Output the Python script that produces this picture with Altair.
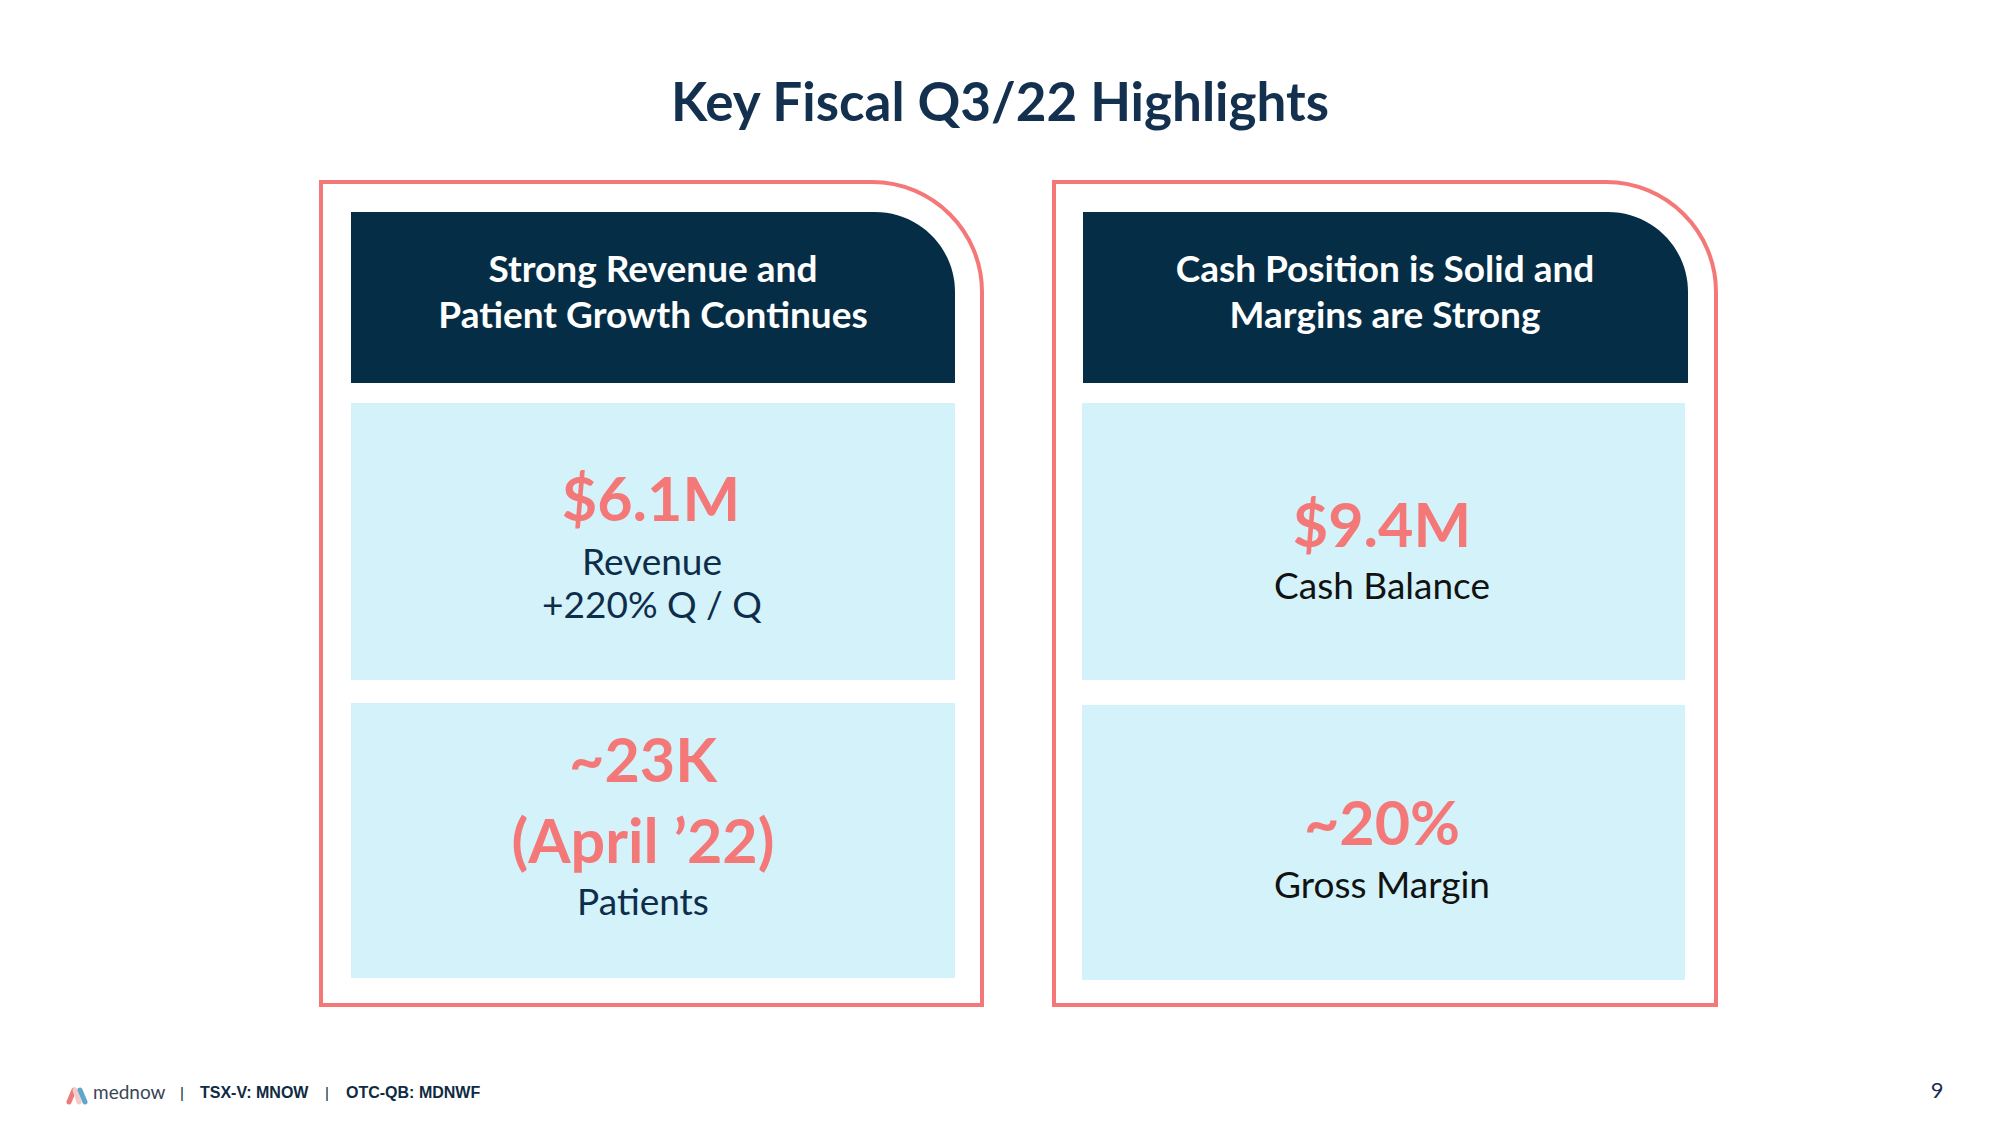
import altair as alt
import pandas as pd

# ---------------- content ----------------
slide_title = "Key Fiscal Q3/22 Highlights"
panel_titles_line1 = ["Strong Revenue and", "Cash Position is Solid and"]
panel_titles_line2 = ["Patient Growth Continues", "Margins are Strong"]
metric_values = ["$6.1M", "~23K", "(April \u201922)", "$9.4M", "~20%"]
metric_labels = ["Revenue", "+220% Q / Q", "Patients", "Cash Balance", "Gross Margin"]
footer_items = ["TSX-V: MNOW", "OTC-QB: MDNWF"]
brand_name = "mednow"
page_number = "9"

# ---------------- layout (pixels of a 2000x1125 slide) ----------------
panel_x0 = [321, 1054]
panel_x1 = [982, 1716]
panel_y0 = [182, 182]
panel_y1 = [1005, 1005]

header_x0 = [351, 1083]
header_x1 = [955, 1688]
header_y0 = [212, 212]
header_y1 = [383, 383]
header_cx = [653, 1385]
header_base1 = [282, 282]
header_base2 = [328, 328]

box_x0 = [351, 351, 1082, 1082]
box_x1 = [955, 955, 1685, 1685]
box_y0 = [403, 703, 403, 705]
box_y1 = [680, 978, 680, 980]

value_cx = [651, 643, 643, 1382, 1382]
value_base = [521, 782, 863, 547, 845]
label_cx = [652, 652, 643, 1382, 1382]
label_base = [575, 618, 915, 599, 898]

CORAL = "#F47878"
NAVY = "#052E46"
LIGHT = "#D3F2FA"
TITLE_C = "#13304F"
LABEL_NAVY = "#0E2D4B"
LABEL_BLACK = "#121212"
label_colors = [LABEL_NAVY, LABEL_NAVY, LABEL_NAVY, LABEL_BLACK, LABEL_BLACK]

W, H = 1984, 1109
XS = alt.Scale(domain=[8, 8 + W], nice=False, zero=False)
YS = alt.Scale(domain=[8, 8 + H], nice=False, zero=False, reverse=True)


def X(f):
    return alt.X(f, type="quantitative", scale=XS, axis=None)


def Y(f):
    return alt.Y(f, type="quantitative", scale=YS, axis=None)


# ---------------- data tables ----------------
panels = pd.DataFrame({"x0": panel_x0, "x1": panel_x1, "y0": panel_y0, "y1": panel_y1})
headers = pd.DataFrame({"x0": header_x0, "x1": header_x1, "y0": header_y0, "y1": header_y1})
boxes = pd.DataFrame({"x0": box_x0, "x1": box_x1, "y0": box_y0, "y1": box_y1})

header_text = pd.DataFrame({
    "t": panel_titles_line1 + panel_titles_line2,
    "x": header_cx + header_cx,
    "y": header_base1 + header_base2,
})
values = pd.DataFrame({"t": metric_values, "x": value_cx, "y": value_base})
labels = pd.DataFrame({"t": metric_labels, "x": label_cx, "y": label_base, "c": label_colors})
title_df = pd.DataFrame({"t": [slide_title], "x": [1000], "y": [121]})
footer_bold = pd.DataFrame({"t": footer_items, "x": [200, 346], "y": [1098, 1098]})
footer_sep = pd.DataFrame({"t": ["|", "|"], "x": [182, 327], "y": [1098, 1098]})
brand_df = pd.DataFrame({"t": [brand_name], "x": [93], "y": [1099]})
page_df = pd.DataFrame({"t": [page_number], "x": [1937], "y": [1098]})
logo = pd.DataFrame({
    "x0": [69, 75, 80], "x1": [74, 79, 85],
    "y0": [1102, 1090, 1090], "y1": [1090, 1102, 1102],
    "c": ["#EE7A78", "#F4C9C8", "#5FA7C8"],
})

# ---------------- layers ----------------
panel_layer = alt.Chart(panels).mark_rect(
    fill="#ffffff", stroke=CORAL, strokeWidth=4, cornerRadiusTopRight=110
).encode(x=X("x0"), x2="x1", y=Y("y0"), y2="y1")

header_layer = alt.Chart(headers).mark_rect(
    fill=NAVY, cornerRadiusTopRight=80
).encode(x=X("x0"), x2="x1", y=Y("y0"), y2="y1")

box_layer = alt.Chart(boxes).mark_rect(fill=LIGHT).encode(
    x=X("x0"), x2="x1", y=Y("y0"), y2="y1"
)

title_layer = alt.Chart(title_df).mark_text(
    font="Lato", fontWeight="bold", fontSize=53, color=TITLE_C,
    align="center", baseline="alphabetic"
).encode(x=X("x"), y=Y("y"), text="t:N")

header_text_layer = alt.Chart(header_text).mark_text(
    font="Lato", fontWeight="bold", fontSize=37, color="#ffffff",
    align="center", baseline="alphabetic"
).encode(x=X("x"), y=Y("y"), text="t:N")

value_layer = alt.Chart(values).mark_text(
    font="Lato", fontWeight="bold", fontSize=61, color=CORAL,
    align="center", baseline="alphabetic"
).encode(x=X("x"), y=Y("y"), text="t:N")

label_layer = alt.Chart(labels).mark_text(
    font="Lato", fontSize=37, align="center", baseline="alphabetic"
).encode(x=X("x"), y=Y("y"), text="t:N", color=alt.Color("c:N", scale=None))

footer_bold_layer = alt.Chart(footer_bold).mark_text(
    font="Liberation Sans", fontWeight="bold", fontSize=16, color="#0F2A42",
    align="left", baseline="alphabetic"
).encode(x=X("x"), y=Y("y"), text="t:N")

footer_sep_layer = alt.Chart(footer_sep).mark_text(
    font="Liberation Sans", fontSize=15, color="#0F2A42",
    align="center", baseline="alphabetic"
).encode(x=X("x"), y=Y("y"), text="t:N")

brand_layer = alt.Chart(brand_df).mark_text(
    font="Lato", fontSize=19, color="#3A4656",
    align="left", baseline="alphabetic"
).encode(x=X("x"), y=Y("y"), text="t:N")

page_layer = alt.Chart(page_df).mark_text(
    font="Lato", fontSize=22, color="#1B2E55",
    align="center", baseline="alphabetic"
).encode(x=X("x"), y=Y("y"), text="t:N")

logo_layer = alt.Chart(logo).mark_rule(strokeWidth=5, strokeCap="round").encode(
    x=X("x0"), x2="x1", y=Y("y0"), y2="y1", color=alt.Color("c:N", scale=None)
)

chart = alt.layer(
    panel_layer, header_layer, box_layer,
    title_layer, header_text_layer, value_layer, label_layer,
    footer_bold_layer, footer_sep_layer, brand_layer, page_layer, logo_layer,
).properties(
    width=W, height=H, padding=0, background="#ffffff",
    autosize=alt.AutoSizeParams(type="none"),
).configure_view(stroke=None)

chart.save("out.html", embed_options={"renderer": "svg", "actions": False})
